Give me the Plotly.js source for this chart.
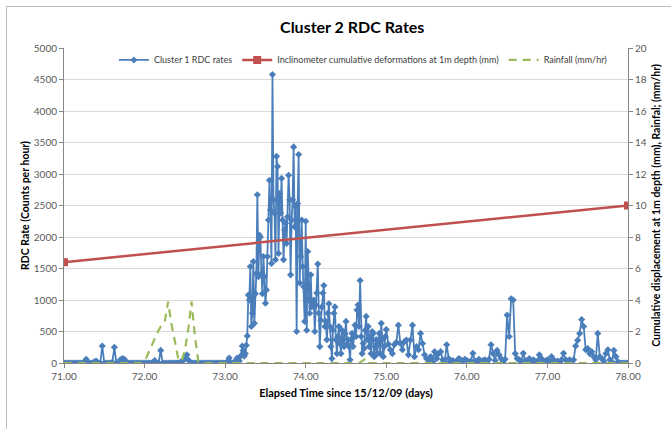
<!DOCTYPE html>
<html>
<head>
<meta charset="utf-8">
<script src="https://cdn.plot.ly/plotly-3.0.1.min.js"></script>
<style>
html,body{margin:0;padding:0;background:#fff;width:671px;height:429px;overflow:hidden;}
#frame{position:absolute;left:6px;top:6px;width:720px;height:480px;border:1px solid #bdbdbd;}
#chart{position:absolute;left:0;top:0;width:671px;height:429px;}
</style>
</head>
<body>
<div id="frame"></div>
<div id="chart"></div>
<script>
// RDC rate samples [elapsed day, counts per hour]
const rdcDay71 = [
[71.000,0],[71.025,0],[71.050,0],[71.075,0],[71.100,0],[71.125,0],[71.150,0],[71.175,0],[71.200,0],[71.225,0],
[71.250,10],[71.275,60],[71.300,0],[71.325,0],[71.350,0],[71.375,20],[71.400,30],[71.425,0],[71.450,0],[71.475,270],
[71.500,0],[71.525,0],[71.550,0],[71.575,0],[71.600,10],[71.625,250],[71.650,0],[71.675,0],[71.700,50],[71.725,70],
[71.750,60],[71.775,10],[71.800,0],[71.825,0],[71.850,0],[71.875,0],[71.900,0],[71.925,0],[71.950,0],[71.975,0]
];
const rdcDay72 = [
[72.000,0],[72.025,0],[72.050,0],[72.075,0],[72.100,0],[72.125,40],[72.150,0],[72.175,0],[72.200,200],[72.225,0],
[72.250,0],[72.275,0],[72.300,0],[72.325,0],[72.350,0],[72.375,0],[72.400,0],[72.425,0],[72.450,20],[72.475,40],
[72.500,60],[72.525,130],[72.550,40],[72.575,0],[72.600,0],[72.625,0],[72.650,0],[72.675,0],[72.700,0],[72.725,0],
[72.750,0],[72.775,0],[72.800,0],[72.825,0],[72.850,0],[72.875,0],[72.900,0],[72.925,0],[72.950,0],[72.975,0]
];
const rdcDay73 = [
[73.000,0],[73.025,20],[73.050,80],[73.075,0],[73.100,0],[73.125,30],[73.150,80],[73.175,30],
[73.2000,120],[73.2125,270],[73.2250,200],[73.2375,110],[73.2500,150],[73.2625,280],[73.2750,430],[73.2875,1080],
[73.3000,1000],[73.3125,1530],[73.3250,580],[73.3375,790],[73.3500,1610],[73.3625,630],[73.3750,1100],[73.3875,1420],
[73.4000,2670],[73.4125,1370],[73.4250,2030],[73.4375,2000],[73.4500,1420],[73.4625,1100],[73.4750,1690],[73.4875,1370],
[73.5000,950],[73.5125,1160],[73.5250,1690],[73.5375,2270],[73.5500,2900],[73.5625,2430],[73.5750,1580],[73.5875,4580],
[73.6000,2590],[73.6125,2380],[73.6250,1640],[73.6375,3280],[73.6500,3120],[73.6625,1740],[73.6750,2690],[73.6875,2380],
[73.7000,2930],[73.7125,2270],[73.7250,1640],[73.7375,2110],[73.7500,2220],[73.7625,1900],[73.7750,2320],[73.7875,2980],
[73.8000,2590],[73.8125,1400],[73.8250,2270],[73.8375,2590],[73.8500,3430],[73.8625,2160],[73.8750,2480],[73.8875,500],
[73.9000,2530],[73.9125,3310],[73.9250,1270],[73.9375,1690],[73.9500,2270],[73.9625,1530],[73.9750,1210],[73.9875,660]
];
const rdcDay74 = [
[74.0000,2250],[74.0125,520],[74.0250,1770],[74.0375,1000],[74.0500,790],[74.0625,1400],[74.0750,890],[74.0875,970],
[74.1000,1000],[74.1125,500],[74.1250,920],[74.1375,1110],[74.1500,1570],[74.1625,790],[74.1750,260],[74.1875,680],
[74.2000,890],[74.2125,1110],[74.2250,1230],[74.2375,580],[74.2500,660],[74.2625,370],[74.2750,790],[74.2875,940],
[74.3000,580],[74.3125,260],[74.3250,70],[74.3375,520],[74.3500,790],[74.3625,890],[74.3750,370],[74.3875,150],
[74.4000,420],[74.4125,580],[74.4250,310],[74.4375,150],[74.4500,520],[74.4625,370],[74.4750,260],[74.4875,470],
[74.5000,660],[74.5125,300],[74.5250,370],[74.5375,260],[74.5500,50],[74.5625,370],[74.5750,470],[74.5875,260],
[74.6000,420],[74.6125,600],[74.6250,420],[74.6375,840],[74.6500,920],[74.6625,580],[74.6750,1310],[74.6875,420],
[74.7000,150],[74.7125,310],[74.7250,230],[74.7375,520],[74.7500,740],[74.7625,370],[74.7750,580],[74.7875,260],
[74.8000,420],[74.8125,150],[74.8250,500],[74.8375,470],[74.8500,100],[74.8625,260],[74.8750,370],[74.8875,150],
[74.9000,310],[74.9125,470],[74.9250,150],[74.9375,630],[74.9500,370],[74.9625,100],[74.9750,260],[74.9875,420]
];
const rdcDay75 = [
[75.000,530],[75.025,300],[75.050,210],[75.075,150],[75.100,290],[75.125,330],[75.150,600],[75.175,310],[75.200,210],[75.225,340],
[75.250,365],[75.275,130],[75.300,365],[75.325,600],[75.350,100],[75.375,260],[75.400,210],[75.425,470],[75.450,310],[75.475,130],
[75.500,70],[75.525,50],[75.550,100],[75.575,20],[75.600,180],[75.625,70],[75.650,150],[75.675,180],[75.700,50],[75.725,20],
[75.750,290],[75.775,70],[75.800,20],[75.825,40],[75.850,20],[75.875,10],[75.900,70],[75.925,50],[75.950,30],[75.975,60]
];
const rdcDay76 = [
[76.000,40],[76.025,20],[76.050,30],[76.075,155],[76.100,30],[76.125,20],[76.150,60],[76.175,20],[76.200,40],[76.225,50],
[76.250,20],[76.275,60],[76.300,290],[76.325,150],[76.350,40],[76.375,200],[76.400,130],[76.425,70],[76.450,20],[76.475,60],
[76.500,760],[76.525,420],[76.550,1020],[76.575,1000],[76.600,150],[76.625,70],[76.650,50],[76.675,20],[76.700,155],[76.725,40],
[76.750,20],[76.775,70],[76.800,30],[76.825,50],[76.850,20],[76.875,30],[76.900,130],[76.925,70],[76.950,40],[76.975,30]
];
const rdcDay77 = [
[77.000,50],[77.025,20],[77.050,100],[77.075,50],[77.100,20],[77.125,30],[77.150,10],[77.175,50],[77.200,155],[77.225,50],
[77.250,30],[77.275,50],[77.300,20],[77.325,50],[77.350,270],[77.375,360],[77.400,470],[77.425,690],[77.450,580],[77.475,210],
[77.500,230],[77.525,150],[77.550,180],[77.575,100],[77.600,50],[77.625,470],[77.650,100],[77.675,70],[77.700,30],[77.725,150],
[77.750,210],[77.775,50],[77.800,20],[77.825,200],[77.850,100],[77.875,20],[77.900,0],[77.925,0],[77.950,0],[77.975,0],
[78.000,0]
];

// Inclinometer cumulative deformation at 1 m depth (mm)
const inclTime = [71.0, 78.0];
const inclDisp = [6.4, 10.0];

// Rainfall (mm/hr)
const rainTime = [71.000, 71.958, 72.000, 72.042, 72.083, 72.125, 72.167, 72.208, 72.250, 72.292,
                  72.333, 72.375, 72.417, 72.458, 72.500, 72.542, 72.583, 72.625, 72.667, 72.708,
                  74.667, 74.708, 74.750, 74.792, 78.000];
const rainRate = [0, 0, 0.1, 0.6, 1.1, 1.5, 2.0, 2.4, 2.6, 3.9,
                  2.5, 1.4, 0.3, 0.1, 0.8, 2.1, 3.9, 1.7, 0.1, 0,
                  0, 0.15, 0.3, 0, 0];

const xTicks = [71, 72, 73, 74, 75, 76, 77, 78];

const rdcAll = [].concat(rdcDay71, rdcDay72, rdcDay73, rdcDay74, rdcDay75, rdcDay76, rdcDay77);
const rdcTime = rdcAll.map(p => p[0]);
const rdcRate = rdcAll.map(p => p[1]);

const FONT = 'Lato, "Open Sans", sans-serif';
const BLUE = '#4a7ebb', RED = '#c0504d', GREEN = '#9bbb59';

const traces = [
  {
    x: rdcTime, y: rdcRate, name: 'Cluster 1 RDC rates', type: 'scatter', mode: 'lines+markers',
    line: {color: BLUE, width: 1.8},
    marker: {symbol: 'diamond', size: 5.5, color: BLUE},
    yaxis: 'y', xaxis: 'x'
  },
  {
    x: inclTime, y: inclDisp, name: 'Inclinometer cumulative deformations at 1m depth (mm)',
    type: 'scatter', mode: 'lines+markers',
    line: {color: RED, width: 2.5},
    marker: {symbol: 'square', size: 8, color: RED},
    yaxis: 'y2', xaxis: 'x'
  },
  {
    x: rainTime, y: rainRate, name: 'Rainfall (mm/hr)', type: 'scatter', mode: 'lines',
    line: {color: GREEN, width: 2.2, dash: '8px,6px'},
    yaxis: 'y2', xaxis: 'x'
  }
];

const axisCommon = {
  showline: true, linecolor: '#868686', linewidth: 1,
  ticks: 'outside', ticklen: 4, tickcolor: '#868686',
  tickfont: {family: FONT, size: 10, color: '#595959'},
  zeroline: false, automargin: false
};

const layout = {
  width: 671, height: 429,
  margin: {l: 64, r: 43, t: 48, b: 66},
  paper_bgcolor: 'rgba(0,0,0,0)', plot_bgcolor: 'rgba(0,0,0,0)',
  font: {family: FONT, color: '#000'},
  showlegend: true,
  title: {
    text: 'Cluster 2 RDC Rates',
    font: {family: FONT, size: 16, color: '#000', weight: 700},
    x: 0.511, xanchor: 'center', xref: 'paper',
    y: 1 - 27/429, yanchor: 'middle', yref: 'container'
  },
  legend: {
    orientation: 'h', x: 0.53, xanchor: 'center', y: 0.962, yanchor: 'middle',
    font: {family: FONT, size: 9, color: '#404040'},
    bgcolor: 'rgba(0,0,0,0)', itemwidth: 30, tracegroupgap: 0
  },
  xaxis: Object.assign({}, axisCommon, {
    range: [71, 78], tickvals: xTicks, tickformat: '.2f', showgrid: false,
    title: {text: 'Elapsed Time since 15/12/09 (days)', font: {family: FONT, size: 11, color: '#000', weight: 700}, standoff: 8}
  }),
  yaxis: Object.assign({}, axisCommon, {
    range: [0, 5000], dtick: 500, showgrid: true, gridcolor: '#d9d9d9', gridwidth: 1,
    title: {text: 'RDC Rate (Counts per hour)', font: {family: FONT, size: 10.5, color: '#000', weight: 700}, standoff: 2}
  }),
  yaxis2: Object.assign({}, axisCommon, {
    overlaying: 'y', side: 'right', range: [0, 20], dtick: 2, showgrid: false,
    title: {text: 'Cumulative displacement at 1m depth (mm), Rainfal; (mm/hr)', font: {family: FONT, size: 10.5, color: '#000', weight: 700}, standoff: 6}
  })
};

Plotly.newPlot('chart', traces, layout, {displayModeBar: false, staticPlot: true});
</script>
</body>
</html>
